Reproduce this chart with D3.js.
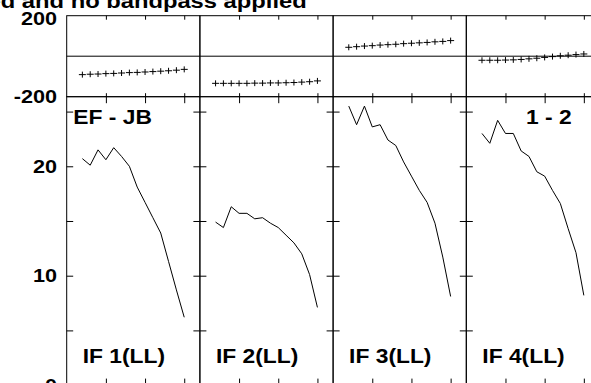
<!DOCTYPE html>
<html>
<head>
<meta charset="utf-8">
<script src="https://cdn.jsdelivr.net/npm/d3@7"></script>
<style>
  html, body { margin: 0; padding: 0; background: #fff; overflow: hidden; }
  svg { display: block; }
  text { font-family: "Liberation Sans", Arial, Helvetica, sans-serif; font-weight: bold; fill: #000; }
</style>
</head>
<body>
<svg id="chart" width="591" height="383"></svg>
<script>
// ---- data ----
const titleText = "ed and no bandpass applied";
const baselineLabel = "EF - JB";
const stokesLabel = "1 - 2";
const ifLabels = ["IF 1(LL)", "IF 2(LL)", "IF 3(LL)", "IF 4(LL)"];
const channels = [2, 3, 4, 5, 6, 7, 8, 9, 10, 11, 12, 13, 14, 15];
const channelTicks = [5, 10, 15];
const phaseTickLabels = [200, -200];
const ampTicks = [5, 10, 15, 20, 25];
const ampTickLabels = [20, 10, 0];

const ampIF1 = [20.7, 20.1, 21.5, 20.6, 21.7, 20.9, 20.0, 18.1, 16.7, 15.3, 13.9, 11.3, 8.7, 6.2];
const ampIF2 = [14.9, 14.4, 16.3, 15.7, 15.7, 15.2, 15.3, 14.8, 14.4, 13.7, 13.0, 12.0, 10.1, 7.1];
const ampIF3 = [25.5, 23.8, 25.5, 23.6, 23.8, 22.4, 21.9, 20.4, 19.1, 17.8, 16.7, 14.8, 11.7, 8.1];
const ampIF4 = [23.0, 22.1, 24.2, 23.0, 23.0, 21.4, 20.9, 19.5, 19.1, 17.8, 16.6, 14.3, 12.1, 8.2];

const phIF1 = [-91, -89, -88, -86, -85, -83, -81, -80, -78, -76, -74, -72, -69, -65];
const phIF2 = [-134, -134, -134, -134, -134, -133, -133, -132, -132, -131, -130, -128, -126, -122];
const phIF3 = [44, 47, 50, 52, 55, 57, 59, 62, 64, 66, 68, 71, 73, 77];
const phIF4 = [-20, -20, -20, -19, -18, -16, -13, -10, -6, -2, 2, 5, 8, 11];

const amps = [ampIF1, ampIF2, ampIF3, ampIF4];
const phases = [phIF1, phIF2, phIF3, phIF4];

// ---- layout ----
const svg = d3.select("#chart");
const SX = 1.17;           // horizontal stretch of the original rendering
const panelW = 133.2;
const firstLeft = 66.7;
const phTop = 15.7, phBot = 96.7, ampBot = 385.1;

const panelX = d3.scaleLinear().domain([0, 1]).range([firstLeft, firstLeft + panelW]);
const yPh = d3.scaleLinear().domain([-200, 200]).range([phBot, phTop]);
const yAmp = d3.scaleLinear().domain([0, 26.36]).range([ampBot, phBot]);

function label(x, y, txt, size, anchor) {
  svg.append("text")
    .attr("transform", `translate(${x},${y}) scale(${SX},1)`)
    .attr("text-anchor", anchor)
    .style("font-size", size + "px")
    .text(txt);
}

function styleAxis(g) {
  g.select(".domain").remove();
  g.selectAll(".tick line").attr("stroke", "#000").attr("stroke-width", 1);
  g.selectAll(".tick text").remove();
}

amps.forEach((amp, i) => {
  const left = panelX(i), right = panelX(i + 1);
  const x = d3.scaleLinear().domain([0, 17]).range([left, right]);
  const ph = phases[i];
  const g = svg.append("g");

  // phase panel frame
  g.append("rect").attr("x", left).attr("y", phTop).attr("width", right - left).attr("height", phBot - phTop)
    .attr("fill", "none").attr("stroke", "#000").attr("stroke-width", 1);
  // zero phase line
  g.append("line").attr("x1", left).attr("x2", right).attr("y1", yPh(0)).attr("y2", yPh(0))
    .attr("stroke", "#000").attr("stroke-width", 1);
  // amplitude panel frame
  g.append("rect").attr("x", left).attr("y", phBot).attr("width", right - left).attr("height", ampBot - phBot)
    .attr("fill", "none").attr("stroke", "#000").attr("stroke-width", 1);

  // x ticks (phase top, phase bottom, amp top, amp bottom)
  g.append("g").attr("transform", `translate(0,${phTop})`)
    .call(d3.axisTop(x).tickValues(channelTicks).tickSizeInner(-4).tickSizeOuter(0)).call(styleAxis);
  g.append("g").attr("transform", `translate(0,${phBot})`)
    .call(d3.axisBottom(x).tickValues(channelTicks).tickSizeInner(-3.5).tickSizeOuter(0)).call(styleAxis);
  g.append("g").attr("transform", `translate(0,${phBot})`)
    .call(d3.axisTop(x).tickValues(channelTicks).tickSizeInner(-6.5).tickSizeOuter(0)).call(styleAxis);
  g.append("g").attr("transform", `translate(0,${ampBot})`)
    .call(d3.axisBottom(x).tickValues(channelTicks).tickSizeInner(-6.5).tickSizeOuter(0)).call(styleAxis);

  // y ticks on amplitude panel (inward, both sides)
  g.append("g").attr("transform", `translate(${left},0)`)
    .call(d3.axisLeft(yAmp).tickValues(ampTicks).tickSizeInner(-6.5).tickSizeOuter(0)).call(styleAxis);
  g.append("g").attr("transform", `translate(${right},0)`)
    .call(d3.axisRight(yAmp).tickValues(ampTicks).tickSizeInner(-6.5).tickSizeOuter(0)).call(styleAxis);

  // amplitude line
  const line = d3.line().x((d, k) => x(channels[k])).y(d => yAmp(d));
  g.append("path").datum(amp).attr("d", line)
    .attr("fill", "none").attr("stroke", "#000").attr("stroke-width", 1);

  // phase plus markers
  const marks = g.append("g").selectAll("g").data(ph).join("g")
    .attr("transform", (d, k) => `translate(${x(channels[k])},${yPh(d)})`);
  marks.append("line").attr("x1", -3.5).attr("x2", 3.5).attr("y1", 0).attr("y2", 0)
    .attr("stroke", "#000").attr("stroke-width", 1);
  marks.append("line").attr("x1", 0).attr("x2", 0).attr("y1", -3).attr("y2", 3)
    .attr("stroke", "#000").attr("stroke-width", 1);

  // IF label
  label(left + 16, 363, ifLabels[i], 19.5, "start");
});

// y-axis labels
label(57, 25, String(phaseTickLabels[0]), 18.5, "end");
label(57, yPh(phaseTickLabels[1]) + 6.5, String(phaseTickLabels[1]), 18.5, "end");
ampTickLabels.forEach(v => label(57, yAmp(v) + 6.5, String(v), 18.5, "end"));

// panel annotations
label(73.3, 124, baselineLabel, 19.5, "start");
label(571.7, 124, stokesLabel, 19.5, "end");

// title (cut off at the top edge)
label(306.7, 7.5, titleText, 20.3, "end");
</script>
</body>
</html>
